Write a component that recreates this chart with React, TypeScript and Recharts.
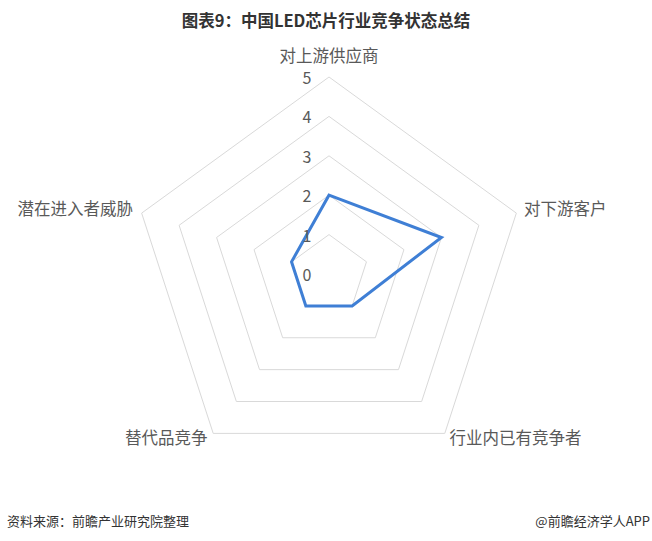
import React from 'react';
import { RadarChart, Radar, PolarGrid, PolarAngleAxis, PolarRadiusAxis } from 'recharts';

const categories = ['对上游供应商', '对下游客户', '行业内已有竞争者', '替代品竞争', '潜在进入者威胁'];
const values = [2, 3, 1, 1, 1];
const radiusTicks = [0, 1, 2, 3, 4, 5];
const title = '图表9：中国LED芯片行业竞争状态总结';
const source = '资料来源：前瞻产业研究院整理';
const credit = '@前瞻经济学人APP';

const data = categories.map((c, i) => ({ name: c, value: values[i] }));

const FONT = '"Noto Sans CJK SC", "Noto Sans", sans-serif';

const AngleTick = (props: any) => {
  const { x, y, payload, textAnchor } = props;
  let dx = 0;
  let dy = -3;
  if (textAnchor === 'middle') dy = -14;
  if (textAnchor === 'end') dx = -1;
  return (
    <text x={x + dx} y={y + dy} textAnchor={textAnchor} dominantBaseline="central"
      fontSize={16.5} fill="#595959" fontFamily={FONT}>
      {payload.value}
    </text>
  );
};

const RadiusTick = (props: any) => {
  const { x, y, payload } = props;
  return (
    <text x={x - 22} y={y} textAnchor="middle" dominantBaseline="central"
      fontSize={16} fill="#595959" fontFamily={FONT}>
      {payload.value}
    </text>
  );
};

export default function App() {
  return (
    <div style={{ position: 'absolute', left: 0, top: 0, width: 652, height: 541, background: '#fff', fontFamily: FONT }}>
      <div style={{ position: 'absolute', left: 0, top: 8, width: 652, textAlign: 'center', fontSize: 16.5, fontWeight: 'bold', color: '#333', lineHeight: '24px' }}>
        {title}
      </div>
      <RadarChart width={652} height={541} data={data} cx={329} cy={274} outerRadius={197}
        startAngle={90} endAngle={-270} margin={{ top: 0, right: 0, bottom: 0, left: 0 }}>
        <PolarGrid gridType="polygon" radialLines={false} stroke="#d9d9d9" strokeWidth={1} />
        <PolarAngleAxis dataKey="name" tick={<AngleTick />} tickLine={false} axisLine={false} />
        <PolarRadiusAxis angle={90} domain={[0, 5]} ticks={radiusTicks as any} tickCount={6}
          axisLine={false} tickLine={false} tick={<RadiusTick />} />
        <Radar dataKey="value" stroke="#3f7fd5" strokeWidth={3} fill="none" fillOpacity={0}
          dot={false} isAnimationActive={false} />
      </RadarChart>
      <div style={{ position: 'absolute', left: 7, top: 512, fontSize: 13, color: '#333', lineHeight: '18px' }}>{source}</div>
      <div style={{ position: 'absolute', right: 2, top: 512, fontSize: 13, color: '#333', lineHeight: '18px' }}>{credit}</div>
    </div>
  );
}
